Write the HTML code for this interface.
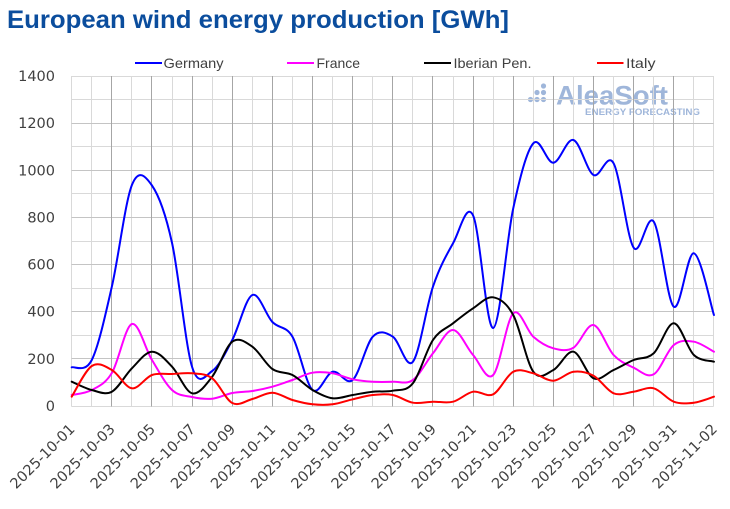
<!DOCTYPE html>
<html>
<head>
<meta charset="utf-8">
<style>
  html,body{margin:0;padding:0;background:#fff;}
  svg{display:block;}
  .ax{font-family:"DejaVu Sans","Liberation Sans",sans-serif;font-size:14.5px;fill:#404040;}
  .lg{font-family:"Liberation Sans","DejaVu Sans",sans-serif;font-size:14px;fill:#404040;}
</style>
</head>
<body>
<svg id="c" width="730" height="509" viewBox="0 0 730 509" xmlns="http://www.w3.org/2000/svg">
  <rect x="0" y="0" width="730" height="509" fill="#fff"/>
  <!-- Title -->
  <text x="7" y="28" font-family="Liberation Sans, DejaVu Sans, sans-serif" font-weight="bold" font-size="25" fill="#0b4d9d" textLength="502" lengthAdjust="spacingAndGlyphs">European wind energy production [GWh]</text>

  <!-- Logo (behind grid) -->
  <g fill="#9fb6da">
    <circle cx="543.5" cy="86" r="2.6"/>
    <circle cx="537" cy="92.5" r="2.6"/>
    <circle cx="543.5" cy="92.5" r="2.6"/>
    <circle cx="530.5" cy="99.5" r="2.6"/>
    <circle cx="537" cy="99.5" r="2.6"/>
    <circle cx="543.5" cy="99.5" r="2.6"/>
    <text x="556" y="104.7" font-family="Liberation Sans, sans-serif" font-weight="bold" font-size="27" textLength="112" lengthAdjust="spacingAndGlyphs">AleaSoft</text>
    <text x="585" y="115" font-family="Liberation Sans, sans-serif" font-weight="bold" font-size="9.5" textLength="115" lengthAdjust="spacingAndGlyphs">ENERGY FORECASTING</text>
  </g>

  <g id="grid"></g>
  <g id="series" fill="none" stroke-width="2" stroke-linejoin="round" stroke-linecap="round"></g>

  <!-- Legend -->
  <line x1="135" y1="63" x2="162" y2="63" stroke="#0000ff" stroke-width="2"/>
  <text class="lg" x="163.5" y="68" textLength="60" lengthAdjust="spacingAndGlyphs">Germany</text>
  <line x1="287" y1="63" x2="314" y2="63" stroke="#ff00ff" stroke-width="2"/>
  <text class="lg" x="316.5" y="68" textLength="43.5" lengthAdjust="spacingAndGlyphs">France</text>
  <line x1="424" y1="63" x2="451" y2="63" stroke="#000000" stroke-width="2"/>
  <text class="lg" x="453.5" y="68" textLength="78" lengthAdjust="spacingAndGlyphs">Iberian Pen.</text>
  <line x1="597" y1="63" x2="623.5" y2="63" stroke="#ff0000" stroke-width="2"/>
  <text class="lg" x="626" y="68" textLength="29.5" lengthAdjust="spacingAndGlyphs">Italy</text>

  <!-- Y axis labels -->
  <g class="ax" text-anchor="end">
    <text x="55" y="411">0</text>
    <text x="55" y="363.9">200</text>
    <text x="55" y="316.7">400</text>
    <text x="55" y="269.6">600</text>
    <text x="55" y="222.4">800</text>
    <text x="55" y="175.3">1000</text>
    <text x="55" y="128.1">1200</text>
    <text x="55" y="81">1400</text>
  </g>

  <!-- X axis labels -->
  <g class="ax" text-anchor="end">
    <text transform="translate(75.7,430) rotate(-45)">2025-10-01</text>
    <text transform="translate(115.8,430) rotate(-45)">2025-10-03</text>
    <text transform="translate(156.0,430) rotate(-45)">2025-10-05</text>
    <text transform="translate(196.1,430) rotate(-45)">2025-10-07</text>
    <text transform="translate(236.3,430) rotate(-45)">2025-10-09</text>
    <text transform="translate(276.4,430) rotate(-45)">2025-10-11</text>
    <text transform="translate(316.5,430) rotate(-45)">2025-10-13</text>
    <text transform="translate(356.7,430) rotate(-45)">2025-10-15</text>
    <text transform="translate(396.8,430) rotate(-45)">2025-10-17</text>
    <text transform="translate(437.0,430) rotate(-45)">2025-10-19</text>
    <text transform="translate(477.1,430) rotate(-45)">2025-10-21</text>
    <text transform="translate(517.2,430) rotate(-45)">2025-10-23</text>
    <text transform="translate(557.4,430) rotate(-45)">2025-10-25</text>
    <text transform="translate(597.5,430) rotate(-45)">2025-10-27</text>
    <text transform="translate(637.7,430) rotate(-45)">2025-10-29</text>
    <text transform="translate(677.8,430) rotate(-45)">2025-10-31</text>
    <text transform="translate(718.0,430) rotate(-45)">2025-11-02</text>
  </g>
</svg>
<script>
(function(){
  var NS="http://www.w3.org/2000/svg";
  var X0=71.7, DX=20.07, TOP=76, BOT=406;
  function X(d){return X0+d*DX;}
  var grid=document.getElementById("grid");
  function ln(x1,y1,x2,y2,c){
    var l=document.createElementNS(NS,"line");
    l.setAttribute("x1",x1);l.setAttribute("y1",y1);
    l.setAttribute("x2",x2);l.setAttribute("y2",y2);
    l.setAttribute("stroke",c);l.setAttribute("stroke-width","1");
    grid.appendChild(l);
  }
  var left=Math.floor(X(0))+0.5, right=Math.floor(X(32))+0.5;
  var minorC="#d9d9d9", majorV="#a6a6a6", majorH="#c4c4c4";
  var k,d,y,x;
  for(k=0;k<=14;k++){
    y=Math.floor(BOT-k*(BOT-TOP)/14)+0.5;
    if(!(k%2===0 && k>0 && k<14)) ln(left,y,right,y,minorC);
  }
  for(d=0;d<=32;d++){
    x=Math.floor(X(d))+0.5;
    if(!(d%2===0 && d>0 && d<32)) ln(x,TOP,x,BOT+0.5,minorC);
  }
  for(k=2;k<=12;k+=2){
    y=Math.floor(BOT-k*(BOT-TOP)/14)+0.5;
    ln(left,y,right,y,majorH);
  }
  for(d=2;d<=30;d+=2){
    x=Math.floor(X(d))+0.5;
    ln(x,TOP,x,BOT+0.5,majorV);
  }

  var G=[367.3,360,286.7,185,185.5,243,367,371,340,295,322,336.7,390,371.7,380,336.7,336.7,361.7,286.7,243.3,215.5,328,208.3,143.3,162.7,140,175,163.3,247.7,221.7,306.7,253.3,315];
  var F=[395,390,373,324,360,390,397,398.7,393,391,386.7,380,372.7,373.3,379.3,381.7,381.7,380,353.3,330,355,375,313.3,336.7,348.3,347.7,325,355,367.7,374.3,345,341.7,351.7];
  var I=[381.7,390,391.7,368.3,351.7,366.7,393.3,376.7,341.7,346.7,369,375,390,398.3,395,391.7,390.7,383.3,340,323.3,308.3,297.3,315,371.7,370,351.7,378.3,370,360,353.3,323.3,355,361.7];
  var IT=[396.7,366,370,388.3,375,374,373.3,378.3,403,399,392.7,400,404.3,404.3,399.3,395,395,402.7,401.7,401.7,391.7,394.3,371.7,373.3,380.7,371.7,375.7,393.3,391.7,388.3,401.7,402.7,396.7];

  function path(ys){
    var n=ys.length, s="M"+X(0).toFixed(2)+","+ys[0];
    for(var i=0;i<n-1;i++){
      var p0=i>0?i-1:0, p3=i+2<n?i+2:n-1;
      var c1x=X(i)+(X(i+1)-X(p0))/6, c1y=ys[i]+(ys[i+1]-ys[p0])/6;
      var c2x=X(i+1)-(X(p3)-X(i))/6, c2y=ys[i+1]-(ys[p3]-ys[i])/6;
      s+=" C"+c1x.toFixed(2)+","+c1y.toFixed(2)+" "+c2x.toFixed(2)+","+c2y.toFixed(2)+" "+X(i+1).toFixed(2)+","+ys[i+1];
    }
    return s;
  }
  var ser=document.getElementById("series");
  [[G,"#0000ff"],[F,"#ff00ff"],[I,"#000000"],[IT,"#ff0000"]].forEach(function(a){
    var p=document.createElementNS(NS,"path");
    p.setAttribute("d",path(a[0]));
    p.setAttribute("stroke",a[1]);
    ser.appendChild(p);
  });
})();
</script>
</body>
</html>
